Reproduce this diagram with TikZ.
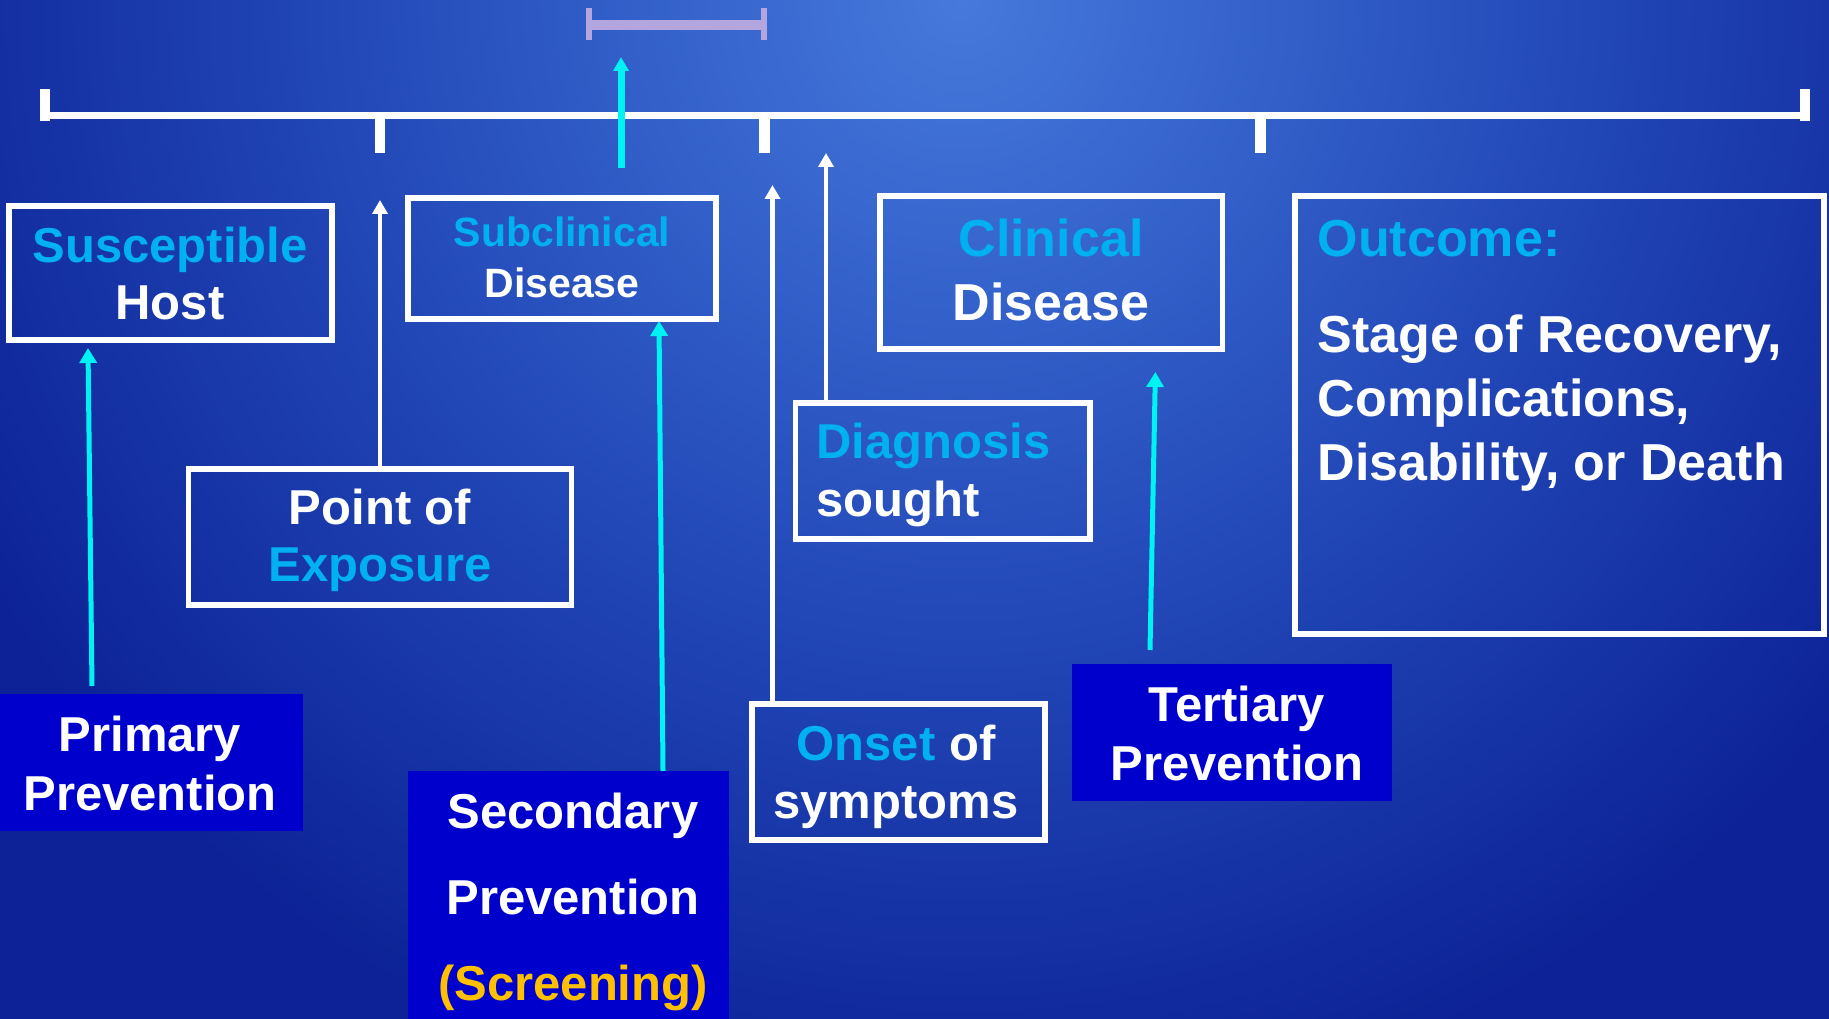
\documentclass[tikz,border=0pt]{standalone}
\usepackage{fontspec}
\setmainfont{Liberation Sans}
\usetikzlibrary{arrows.meta}
\definecolor{bgA}{HTML}{4679DB}
\definecolor{bgB}{HTML}{3462CB}
\definecolor{bgC}{HTML}{2146B6}
\definecolor{bgD}{HTML}{0C2296}
\definecolor{txtcyan}{RGB}{0,176,240}
\definecolor{arrcyan}{RGB}{0,242,242}
\definecolor{boxblue}{HTML}{0000CC}
\definecolor{scrcol}{HTML}{FFC000}
\definecolor{brkcol}{HTML}{B3A6DE}
% path bounding box maps to the central 50bp square: 25bp = 1500pt radius
\pgfdeclareradialshading{bgshade}{\pgfpoint{0bp}{0bp}}{color(0bp)=(bgA); color(5bp)=(bgB); color(10.8bp)=(bgC); color(19bp)=(bgD); color(50bp)=(bgD)}
\tikzset{
  wbox/.style={draw=white, line width=5.5pt, outer sep=0pt, inner sep=0pt},
  fbox/.style={fill=boxblue, outer sep=0pt, inner sep=0pt},
  lbl/.style={text=white, inner sep=0pt, outer sep=0pt, font=\bfseries\fontsize{49}{57}\selectfont},
  warrow/.style={draw=white, line width=4.4pt, -{Triangle[width=15pt,length=14pt]}},
  carrow/.style={draw=arrcyan, line width=5pt, -{Triangle[width=17pt,length=15pt]}},
  tline/.style={draw=white, line cap=butt},
  brkline/.style={draw=brkcol, line cap=butt}
}
\begin{document}
\begin{tikzpicture}[x=1pt,y=-1pt]
\useasboundingbox (0,0) rectangle (1829,1019);
\begin{scope}
  \clip (0,0) rectangle (1829,1019);
  \shade[shading=bgshade] (960,0) circle[radius=1500pt];
\end{scope}

% timeline
\draw[tline, line width=7pt] (45,115.5) -- (1805,115.5);
\draw[tline, line width=10pt] (45.3,89) -- (45.3,121);
\draw[tline, line width=10pt] (1805.3,89) -- (1805.3,121);
\draw[tline, line width=10.5pt] (380,119) -- (380,153);
\draw[tline, line width=10.5pt] (764.5,119) -- (764.5,153);
\draw[tline, line width=10.5pt] (1260.5,119) -- (1260.5,153);

% bracket
\draw[brkline, line width=6pt] (589,8) -- (589,40);
\draw[brkline, line width=6pt] (764,8) -- (764,40);
\draw[brkline, line width=10pt] (589,25) -- (764,25);

% outlined boxes
\node[wbox, minimum width=323pt, minimum height=134pt] (host) at (170.5,273) {};
\node[wbox, minimum width=383pt, minimum height=136pt] (expo) at (380,537) {};
\node[wbox, minimum width=308pt, minimum height=121pt] (sub) at (562,258.5) {};
\node[wbox, minimum width=342.5pt, minimum height=153pt] (clin) at (1051.25,272.5) {};
\node[wbox, minimum width=294.5pt, minimum height=136pt] (diag) at (942.75,471) {};
\node[wbox, minimum width=293pt, minimum height=136pt] (onset) at (898.5,772) {};
\node[wbox, minimum width=529pt, minimum height=438pt] (outc) at (1559.5,415) {};

% filled boxes
\node[fbox, minimum width=302.5pt, minimum height=137pt] (prim) at (151.25,762.5) {};
\node[fbox, minimum width=321pt, minimum height=248pt] (sec) at (568.5,895) {};
\node[fbox, minimum width=320pt, minimum height=137pt] (tert) at (1232,732.5) {};

% texts (anchor base = baseline of the last line)
\node[lbl, align=center, anchor=base] (hostT) at (170,319) {\textcolor{txtcyan}{Susceptible}\\Host};
\node[lbl, align=center, anchor=base] (expoT) at (380,581.7) {Point of\\\textcolor{txtcyan}{Exposure}};
\node[lbl, align=center, anchor=base, font=\bfseries\fontsize{41}{50.6}\selectfont] (subT) at (562,297.3) {\textcolor{txtcyan}{Subclinical}\\Disease};
\node[lbl, align=center, anchor=base, font=\bfseries\fontsize{52}{64}\selectfont] (clinT) at (1051,320.7) {\textcolor{txtcyan}{Clinical}\\Disease};
\node[lbl, align=left, anchor=base west, font=\bfseries\fontsize{49}{58.7}\selectfont] (diagT) at (816.6,516.7) {\textcolor{txtcyan}{Diagnosis}\\sought};
\node[lbl, align=center, anchor=base, font=\bfseries\fontsize{49}{58}\selectfont] (onsetT) at (896,818) {\textcolor{txtcyan}{Onset} of\\symptoms};
\node[lbl, align=left, anchor=base west, font=\bfseries\fontsize{52}{63.7}\selectfont] (outcT) at (1317.7,480) {\textcolor{txtcyan}{Outcome:}\\[32.3pt]Stage of Recovery,\\Complications,\\Disability, or Death};
\node[lbl, align=center, anchor=base, font=\bfseries\fontsize{49}{58.3}\selectfont] (primT) at (150,810) {Primary\\Prevention};
\node[lbl, align=center, anchor=base, font=\bfseries\fontsize{49}{86}\selectfont] (secT) at (573,1000) {Secondary\\Prevention\\\textcolor{scrcol}{(Screening)}};
\node[lbl, align=center, anchor=base, font=\bfseries\fontsize{49}{58.3}\selectfont] (tertT) at (1237,780) {Tertiary\\Prevention};

% free ends
\coordinate (topTip) at (621,57);
\coordinate (expoTip) at (380,200);
\coordinate (onsetTip) at (772.5,185);
\coordinate (diagTip) at (826,153);

% cyan arrows
\draw[carrow] ([xshift=-59.25pt,yshift=8pt]prim.north) -- ([xshift=-82.5pt,yshift=-8pt]host.south);
\draw[carrow] ([xshift=94.5pt]sec.north) -- ([xshift=97pt,yshift=-2pt]sub.south);
\draw[carrow] ([xshift=-82pt,yshift=14pt]tert.north) -- ([xshift=104.15pt,yshift=-23pt]clin.south);
\draw[carrow, line width=7pt, -{Triangle[width=15pt,length=14pt]}] ([xshift=59pt,yshift=30pt]sub.north) -- (topTip);

% white arrows
\draw[warrow] (expo.north) -- (expoTip);
\draw[warrow] ([xshift=-126pt]onset.north) -- (onsetTip);
\draw[warrow] ([xshift=-116.75pt]diag.north) -- (diagTip);
\end{tikzpicture}
\end{document}
